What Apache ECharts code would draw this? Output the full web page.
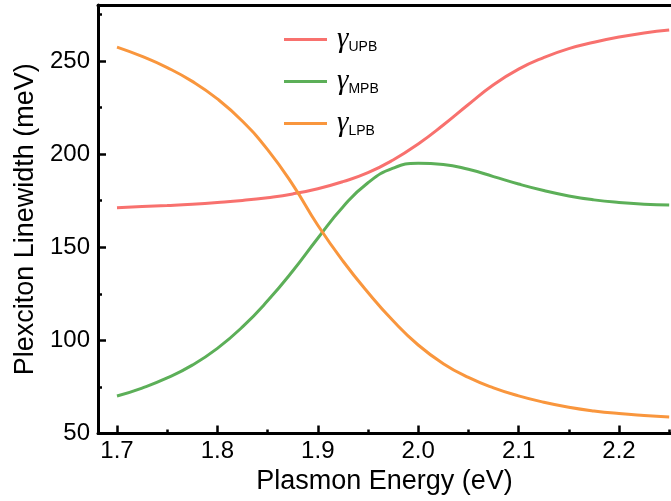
<!DOCTYPE html>
<html>
<head>
<meta charset="utf-8">
<script src="https://cdn.jsdelivr.net/npm/echarts@6/dist/echarts.min.js"></script>
<style>
  html, body { margin: 0; padding: 0; background: #fff; }
  #chart { width: 671px; height: 501px; }
</style>
</head>
<body>
<div id="chart"></div>
<script>
// plasmon energy (eV)
const energy = [1.700, 1.725, 1.750, 1.775, 1.800, 1.825, 1.850, 1.875, 1.900, 1.925, 1.950, 1.975,
  2.000, 2.025, 2.050, 2.075, 2.100, 2.125, 2.150, 2.175, 2.200, 2.225, 2.250]
// linewidths (meV)
const upb = [171.2, 171.8, 172.4, 173.1, 174.0, 175.1, 176.6, 178.6, 181.4, 185.2, 190.0, 196.8,
  205.4, 215.6, 226.6, 237.2, 245.6, 251.8, 256.6, 260.0, 262.8, 265.0, 266.6]
const mpb = [70.1, 74.4, 79.8, 86.7, 95.7, 107.2, 121.2, 137.2, 154.8, 171.6, 184.6, 192.4,
  195.0, 194.4, 191.8, 187.9, 183.9, 180.4, 177.5, 175.4, 174.0, 173.1, 172.6]
const lpb = [257.4, 252.4, 246.4, 239.0, 229.6, 217.6, 202.4, 183.6, 161.8, 142.6, 125.7, 110.5,
  97.5, 87.5, 80.1, 74.5, 70.2, 66.8, 64.1, 62.1, 60.7, 59.7, 58.9]

const xTicks = [1.7, 1.8, 1.9, 2.0, 2.1, 2.2]
const xMinorTicks = [1.75, 1.85, 1.95, 2.05, 2.15, 2.25]
const yTicks = [50, 100, 150, 200, 250]
const yMinorTicks = [75, 125, 175, 225, 275]

const xMin = 1.68108
const xMax = 2.2518
const yMin = 50
const yMax = 280

const font = 'Liberation Sans, Arial, sans-serif'
const black = '#000'

const chart = echarts.init(document.getElementById('chart'), null, { renderer: 'canvas' })

const pairs = (ys) => energy.map((x, i) => [x, ys[i]])

const lineSeries = (name, ys, color) => ({
  name: name,
  type: 'line',
  data: pairs(ys),
  smooth: true,
  symbol: 'none',
  xAxisIndex: 0,
  yAxisIndex: 0,
  lineStyle: { width: 3, color: color },
  itemStyle: { color: color }
})

const option = {
  animation: false,
  backgroundColor: '#fff',
  grid: {
    left: 98,
    right: 0,
    top: 5,
    bottom: 67.5,
    outerBoundsMode: 'none'
  },
  legend: {
    orient: 'vertical',
    left: 284,
    top: 25,
    padding: 0,
    icon: 'rect',
    itemWidth: 43,
    itemHeight: 3,
    itemGap: 13,
    data: ['UPB', 'MPB', 'LPB'],
    formatter: (name) => '{g|γ}{s|' + name + '}',
    textStyle: {
      padding: [0, 0, 0, 5],
      rich: {
        g: { fontFamily: 'Liberation Serif, Times New Roman, serif', fontStyle: 'italic', fontSize: 29, color: black },
        s: { fontFamily: font, fontSize: 14, lineHeight: 10, color: black, verticalAlign: 'bottom' }
      }
    }
  },
  xAxis: [
    {
      type: 'value',
      position: 'bottom',
      min: xMin,
      max: xMax,
      name: 'Plasmon Energy (eV)',
      nameLocation: 'middle',
      nameGap: 33,
      nameTextStyle: { fontFamily: font, fontSize: 27, color: black },
      axisLine: { show: true, onZero: false, lineStyle: { color: black, width: 3 } },
      axisTick: { show: true, inside: true, length: 8, customValues: xTicks, lineStyle: { color: black, width: 2.5 } },
      axisLabel: {
        show: true,
        customValues: xTicks,
        margin: 6,
        fontFamily: font,
        fontSize: 24,
        color: black,
        formatter: (v) => v.toFixed(1)
      },
      splitLine: { show: false }
    },
    {
      type: 'value',
      position: 'bottom',
      min: xMin,
      max: xMax,
      axisLine: { show: false, onZero: false },
      axisTick: { show: true, inside: true, length: 4, customValues: xMinorTicks, lineStyle: { color: black, width: 2.5 } },
      axisLabel: { show: false },
      splitLine: { show: false }
    },
    {
      type: 'value',
      position: 'top',
      min: xMin,
      max: xMax,
      axisLine: { show: true, onZero: false, lineStyle: { color: black, width: 3 } },
      axisTick: { show: false },
      axisLabel: { show: false },
      splitLine: { show: false }
    }
  ],
  yAxis: [
    {
      type: 'value',
      position: 'left',
      min: yMin,
      max: yMax,
      name: 'Plexciton Linewidth (meV)',
      nameLocation: 'middle',
      nameGap: 58,
      nameTextStyle: { fontFamily: font, fontSize: 27, color: black },
      axisLine: { show: true, onZero: false, lineStyle: { color: black, width: 3 } },
      axisTick: { show: true, inside: true, length: 8, customValues: yTicks, lineStyle: { color: black, width: 2.5 } },
      axisLabel: {
        show: true,
        customValues: yTicks,
        margin: 8,
        fontFamily: font,
        fontSize: 24,
        color: black
      },
      splitLine: { show: false }
    },
    {
      type: 'value',
      position: 'left',
      min: yMin,
      max: yMax,
      axisLine: { show: false, onZero: false },
      axisTick: { show: true, inside: true, length: 4, customValues: yMinorTicks, lineStyle: { color: black, width: 2.5 } },
      axisLabel: { show: false },
      splitLine: { show: false }
    }
  ],
  series: [
    lineSeries('UPB', upb, '#F8716E'),
    lineSeries('MPB', mpb, '#5CAF58'),
    lineSeries('LPB', lpb, '#F9963D')
  ]
}

chart.setOption(option)
</script>
</body>
</html>
